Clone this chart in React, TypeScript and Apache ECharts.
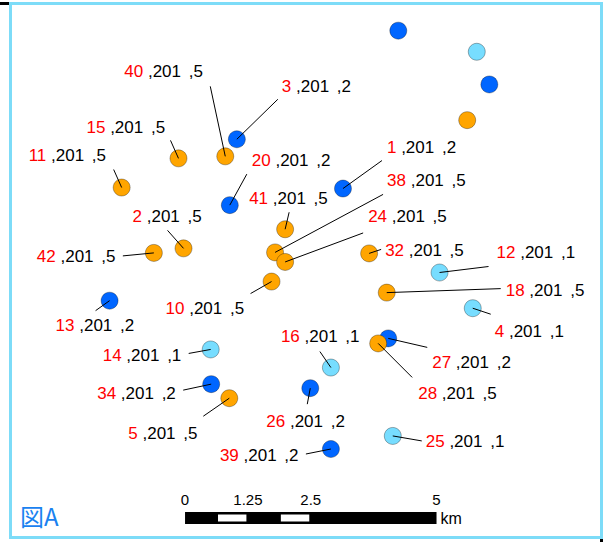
import React, { useEffect, useRef } from "react";
import * as echarts from "echarts";

// Site survey points, coordinates in km (x east, y north), third value = site id (0 = unlabelled)
const YEAR = "201";
const typeCodes = [2, 1, 5];
const typeColors = ["#0066ff", "#77ddff", "#ffa500"];

const type2Sites = [
  [4.24, 9.81, 0], [6.05, 8.74, 0], [1.03, 7.65, 3], [0.89, 6.34, 20], [3.14, 6.67, 1],
  [-1.5, 4.44, 13], [0.52, 2.78, 34], [2.49, 2.7, 26], [2.9, 1.49, 39], [4.04, 3.69, 27],
];
const type1Sites = [
  [5.8, 9.39, 0], [5.06, 5.0, 12], [5.72, 4.29, 4], [0.51, 3.47, 14], [2.9, 3.11, 16], [4.13, 1.75, 25],
];
const type5Sites = [
  [5.61, 8.03, 0], [0.8, 7.31, 40], [-0.13, 7.27, 15], [-1.26, 6.69, 11], [1.99, 5.86, 41],
  [-0.03, 5.48, 2], [-0.62, 5.39, 42], [1.79, 5.4, 38], [1.99, 5.21, 24], [3.66, 5.38, 32],
  [1.72, 4.82, 10], [4.01, 4.6, 18], [3.84, 3.59, 28], [0.88, 2.5, 5],
];

// scale bar (km)
const scaleTicks = [0, 1.25, 2.5, 5];
const scaleTickLabels = ["0", "1.25", "2.5", "5"];
const scaleWhiteSegments = [[0.625, 1.25], [1.875, 2.5]];

// layout: label offset (px) and leader-line start offset (px) relative to the point
const labelLayout: Record<number, number[]> = {
  3: [45, -53, 41, -40], 20: [22, -45, 17, -31], 1: [44, -41, 39, -28], 13: [-54, 25, -14, 10],
  34: [-114, 9, -28, 6], 26: [-44, 33, -3, 16], 39: [-111, 6, -25, 5], 27: [44, 24, 39, 9],
  12: [57, -20, 49, -6], 4: [22, 23, 18, 6], 14: [-108, 6, -22, 4], 16: [-50, -31, -11, -16],
  25: [33, 6, 29, 5], 40: [-101, -85, -15, -70], 15: [-92, -31, -8, -18], 11: [-93, -32, -8, -18],
  41: [-36, -31, 4, -17], 2: [-51, -32, -16, -18], 42: [-117, 4, -31, 3], 38: [112, -72, 108, -58],
  24: [83, -45, 78, -29], 32: [16, -3, 12, -4], 10: [-106, 27, -21, 12], 18: [119, -2, 114, -4],
  28: [40, 50, 34, 34], 5: [-101, 35, -26, 18],
};

const FONT = "'Liberation Sans', Arial, sans-serif";

export default function App() {
  const ref = useRef<HTMLDivElement>(null);
  useEffect(() => {
    document.body.style.margin = "0";
    const chart = echarts.init(ref.current!, null, { renderer: "svg" });
    const groups = [type2Sites, type1Sites, type5Sites];
    const labelled: number[][] = [];
    groups.forEach((g, i) =>
      g.forEach((p) => {
        if (p[2]) labelled.push([p[0], p[1], p[2], typeCodes[i]]);
      })
    );
    const option: any = {
      animation: false,
      grid: { left: 10, top: 4, width: 591, height: 534 },
      xAxis: { type: "value", min: -3.48, max: 8.27, show: false },
      yAxis: { type: "value", min: -0.28, max: 10.34, show: false },
      series: [
        ...groups.map((g, i) => ({
          type: "scatter",
          name: String(typeCodes[i]),
          data: g.map((p) => [p[0], p[1]]),
          symbolSize: 17,
          clip: false,
          silent: true,
          z: 2,
          itemStyle: { color: typeColors[i], borderColor: "rgba(0,0,0,0.45)", borderWidth: 0.7, opacity: 1 },
        })),
        {
          type: "custom",
          coordinateSystem: "cartesian2d",
          clip: false,
          silent: true,
          z: 5,
          data: labelled,
          renderItem: (params: any, api: any) => {
            const x = api.value(0);
            const y = api.value(1);
            const id = api.value(2);
            const t = api.value(3);
            const [px, py] = api.coord([x, y]);
            const o = labelLayout[id];
            return {
              type: "group",
              children: [
                {
                  type: "line",
                  shape: { x1: px + o[2], y1: py + o[3], x2: px, y2: py },
                  style: { stroke: "#000", lineWidth: 1 },
                },
                {
                  type: "text",
                  x: px + o[0],
                  y: py + o[1],
                  style: {
                    text: `{r|${id}}{b| ,${YEAR}}{c| ,${t}}`,
                    align: "left",
                    verticalAlign: "middle",
                    fontSize: 17,
                    fontFamily: FONT,
                    fill: "#000",
                    rich: {
                      r: { fill: "#ff0000", fontSize: 17, fontFamily: FONT },
                      b: { fill: "#000", fontSize: 17, fontFamily: FONT },
                      c: { fill: "#000", fontSize: 17, fontFamily: FONT, padding: [0, 0, 0, 3] },
                    },
                  },
                },
              ],
            };
          },
        },
      ],
    };
    chart.setOption(option);

    const toPx = (km: number) => chart.convertToPixel({ gridIndex: 0 }, [km, 0])[0];
    const x0 = toPx(0);
    const x5 = toPx(5);
    const barTop = 512;
    const barH = 12;
    const graphic: any[] = [
      { type: "rect", shape: { x: 10.5, y: 3.5, width: 591, height: 534 }, style: { fill: "none", stroke: "#7ddcf8", lineWidth: 3 }, z: 10 },
      { type: "rect", shape: { x: 0, y: 2, width: 9, height: 3 }, style: { fill: "#000" }, z: 10 },
      { type: "rect", shape: { x: 600, y: 539, width: 3, height: 3 }, style: { fill: "#000" }, z: 10 },
      { type: "rect", shape: { x: x0, y: barTop, width: x5 - x0, height: barH }, style: { fill: "#000" }, z: 10 },
      ...scaleWhiteSegments.map((s) => {
        const a = toPx(s[0]);
        const b = toPx(s[1]);
        return { type: "rect", shape: { x: a + 1.5, y: barTop + 2.5, width: b - a - 3, height: barH - 5 }, style: { fill: "#fff" }, z: 11 };
      }),
      ...scaleTicks.map((t, i) => ({
        type: "text",
        x: toPx(t),
        y: 499,
        style: { text: scaleTickLabels[i], align: "center", verticalAlign: "middle", fontSize: 15, fontFamily: FONT, fill: "#000" },
        z: 11,
      })),
      { type: "text", x: x5 + 4, y: 518, style: { text: "km", align: "left", verticalAlign: "middle", fontSize: 16, fontFamily: FONT, fill: "#000" }, z: 11 },
      { type: "text", x: 20, y: 515, style: { text: "図A", align: "left", verticalAlign: "middle", fontSize: 24, fontFamily: "'Noto Sans CJK JP', sans-serif", fill: "#1a82f0" }, z: 11 },
    ];
    chart.setOption({ graphic });
    return () => chart.dispose();
  }, []);
  return <div ref={ref} style={{ width: 607, height: 542, position: "absolute", left: 0, top: 0 }} />;
}
